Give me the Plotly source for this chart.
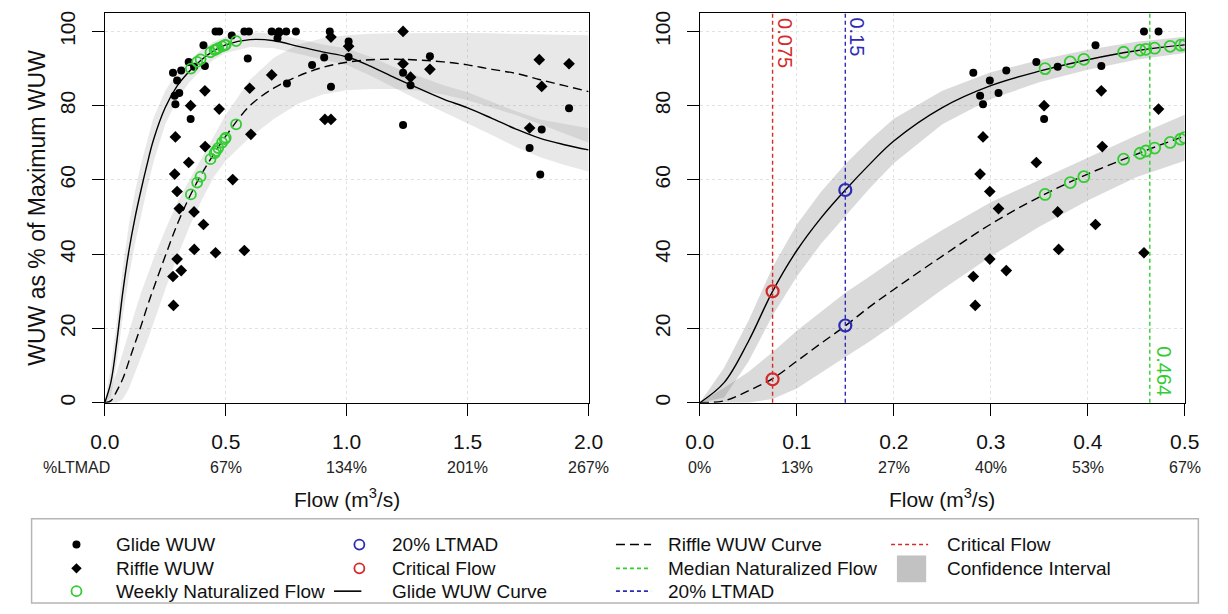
import plotly.graph_objects as go

# ---------------- data ----------------
glide_flow = [0.282, 0.289, 0.292, 0.299, 0.308, 0.316, 0.347, 0.355, 0.369, 0.408, 0.414, 0.458, 0.473,
              0.525, 0.577, 0.596, 0.591, 0.690, 0.720, 0.750, 0.790, 0.714, 0.753, 0.857, 0.907, 0.930,
              0.935, 1.008, 1.008, 1.233, 1.264, 1.233, 1.344, 1.806, 1.919, 1.756, 1.800]
glide_wuw = [88.9, 82.7, 80.4, 86.8, 83.4, 89.5, 91.8, 76.4, 90.5, 96.3, 90.7, 100.0, 100.0,
             98.9, 100.0, 100.0, 92.7, 100.0, 100.0, 100.0, 100.0, 98.2, 86.0, 91.0, 93.0, 100.0,
             85.1, 97.3, 93.1, 88.9, 85.5, 74.8, 93.3, 73.6, 79.3, 68.6, 61.5]

riffle_flow = [0.282, 0.284, 0.289, 0.292, 0.299, 0.299, 0.308, 0.316, 0.347, 0.355, 0.369, 0.370,
               0.408, 0.414, 0.415, 0.458, 0.473, 0.529, 0.577, 0.599, 0.604, 0.690, 0.718, 0.910,
               0.935, 0.935, 1.008, 1.233, 1.233, 1.264, 1.344, 1.756, 1.796, 1.806, 1.919]
riffle_wuw = [34.0, 26.2, 61.6, 71.6, 56.9, 38.7, 52.3, 35.6, 64.7, 80.0, 51.4, 41.3,
              48.0, 84.0, 69.0, 40.4, 79.1, 60.1, 41.0, 84.7, 72.3, 88.3, 99.5, 76.3,
              76.3, 98.5, 96.0, 100.0, 91.3, 87.7, 89.8, 74.0, 92.4, 85.2, 91.3]

weekly_flow = [0.356, 0.382, 0.396, 0.437, 0.454, 0.460, 0.469, 0.485, 0.496, 0.500, 0.543]
weekly_glide = [90.0, 91.8, 92.5, 94.4, 95.0, 95.2, 95.5, 96.0, 96.3, 96.4, 97.4]
weekly_riffle = [56.1, 59.3, 60.9, 65.6, 67.2, 67.8, 68.6, 70.1, 71.0, 71.4, 75.0]

curve_flow = [0, 0.025, 0.05, 0.075, 0.1, 0.125, 0.15, 0.175, 0.2, 0.25, 0.3, 0.35, 0.4, 0.45, 0.5,
              0.6, 0.7, 0.8, 0.9, 1.0, 1.1, 1.2, 1.3, 1.4, 1.5, 1.6, 1.7, 1.8, 1.9, 2.0]
glide_curve = [0, 5.4, 16.5, 30.0, 41.0, 49.8, 57.3, 64.2, 70.5, 79.5, 85.4, 89.3, 92.4, 94.8, 96.4,
               97.8, 97.5, 96.0, 94.5, 93.2, 90.6, 87.5, 84.6, 81.8, 79.4, 76.6, 73.7, 71.2, 69.5, 68.1]
glide_lo = [0, 1.4, 11.0, 23.5, 34.0, 42.8, 50.3, 57.7, 64.5, 75.0, 81.8, 86.3, 89.7, 92.4, 94.2,
            95.8, 95.5, 94.0, 92.5, 91.0, 88.1, 84.7, 81.4, 78.1, 75.2, 72.1, 68.9, 66.1, 64.0, 62.3]
glide_hi = [0, 9.4, 22.0, 36.5, 48.0, 56.8, 64.3, 70.7, 76.5, 84.0, 89.0, 92.3, 95.1, 97.2, 98.6,
            99.8, 99.5, 98.0, 96.5, 95.4, 93.1, 90.3, 87.8, 85.5, 83.6, 81.1, 78.5, 76.3, 75.0, 73.9]

riffle_curve = [0, 0.5, 3.2, 6.5, 11.2, 16.0, 20.7, 25.8, 30.5, 39.5, 48.1, 55.4, 61.6, 66.9, 71.8,
                80.0, 84.8, 88.0, 90.3, 91.7, 92.4, 92.5, 92.3, 91.8, 91.0, 89.8, 88.7, 87.0, 85.4, 83.8]
riffle_lo = [0, 0, 0, 1.0, 3.8, 8.0, 12.3, 16.5, 21.0, 30.5, 39.4, 47.4, 54.5, 60.7, 65.2,
             71.5, 76.5, 80.5, 83.0, 84.2, 84.5, 84.5, 84.0, 83.0, 81.5, 79.5, 77.5, 75.0, 72.5, 70.0]
riffle_hi = [0, 4.0, 8.3, 13.6, 19.4, 24.5, 29.6, 34.0, 38.5, 46.5, 54.0, 60.0, 66.0, 72.0, 77.6,
             87.0, 93.0, 96.5, 98.2, 99.0, 99.4, 99.5, 99.6, 99.6, 99.6, 99.5, 99.4, 99.3, 99.2, 99.0]

critical_flow = 0.075
critical_wuw = [30.0, 6.3]
ltmad20_flow = 0.15
ltmad20_wuw = [57.3, 20.8]
median_flow = 0.464

left_ticks = [0, 0.5, 1.0, 1.5, 2.0]
left_ticktext = ["0.0", "0.5", "1.0", "1.5", "2.0"]
left_pct = ["%LTMAD", "67%", "134%", "201%", "267%"]
right_ticks = [0, 0.1, 0.2, 0.3, 0.4, 0.5]
right_ticktext = ["0.0", "0.1", "0.2", "0.3", "0.4", "0.5"]
right_pct = ["0%", "13%", "27%", "40%", "53%", "67%"]
y_ticks = [0, 20, 40, 60, 80, 100]

# ---------------- styling ----------------
FW, FH = 1228, 614
FONT = "Liberation Sans, Arial, sans-serif"
GREEN = "#33CC33"
RED = "#D42A2A"
BLUE = "#2B2BB5"


def px(x):
    return x / FW


def py(y):
    return 1 - y / FH


fig = go.Figure()


def add_panel(xa, ya, band_fill, green_size):
    for lo, hi in ((glide_lo, glide_hi), (riffle_lo, riffle_hi)):
        fig.add_trace(go.Scatter(
            x=curve_flow + curve_flow[::-1], y=hi + lo[::-1], fill="toself",
            fillcolor=band_fill, line=dict(width=0), mode="lines",
            hoverinfo="skip", showlegend=False, xaxis=xa, yaxis=ya))
    fig.add_trace(go.Scatter(x=curve_flow, y=glide_curve, mode="lines",
                             line=dict(color="black", width=1.4, shape="spline"),
                             showlegend=False, xaxis=xa, yaxis=ya))
    fig.add_trace(go.Scatter(x=curve_flow, y=riffle_curve, mode="lines",
                             line=dict(color="black", width=1.4, dash="9px,5px", shape="spline"),
                             showlegend=False, xaxis=xa, yaxis=ya))
    fig.add_trace(go.Scatter(x=glide_flow, y=glide_wuw, mode="markers",
                             marker=dict(symbol="circle", size=8, color="black"),
                             showlegend=False, xaxis=xa, yaxis=ya))
    fig.add_trace(go.Scatter(x=riffle_flow, y=riffle_wuw, mode="markers",
                             marker=dict(symbol="diamond", size=9, color="black"),
                             showlegend=False, xaxis=xa, yaxis=ya))
    for wy in (weekly_glide, weekly_riffle):
        fig.add_trace(go.Scatter(x=weekly_flow, y=wy, mode="markers",
                                 marker=dict(symbol="circle-open", size=green_size, color=GREEN,
                                             line=dict(width=1.8, color=GREEN)),
                                 showlegend=False, xaxis=xa, yaxis=ya))


add_panel("x", "y", "rgba(120,120,120,0.17)", 10)
add_panel("x2", "y2", "rgba(120,120,120,0.27)", 11)

fig.add_trace(go.Scatter(x=[critical_flow] * len(critical_wuw), y=critical_wuw, mode="markers",
                         marker=dict(symbol="circle-open", size=12, color=RED, line=dict(width=2.2, color=RED)),
                         showlegend=False, xaxis="x2", yaxis="y2"))
fig.add_trace(go.Scatter(x=[ltmad20_flow] * len(ltmad20_wuw), y=ltmad20_wuw, mode="markers",
                         marker=dict(symbol="circle-open", size=12, color=BLUE, line=dict(width=2.2, color=BLUE)),
                         showlegend=False, xaxis="x2", yaxis="y2"))

shapes = []
annotations = []


def ann(text, x, y, xref="paper", yref="paper", size=20, color="#111", **kw):
    d = dict(text=text, x=x, y=y, xref=xref, yref=yref, showarrow=False,
             xanchor=kw.pop("xanchor", "center"), yanchor=kw.pop("yanchor", "middle"),
             font=dict(family=FONT, size=size, color=color))
    d.update(kw)
    annotations.append(d)


for val, col in ((critical_flow, RED), (ltmad20_flow, BLUE), (median_flow, GREEN)):
    shapes.append(dict(type="line", xref="x2", yref="y2 domain", x0=val, x1=val, y0=0, y1=1,
                       line=dict(color=col, width=1.4, dash="4px,3px"), layer="above"))

ann("0.075", critical_flow, py(41), xref="x2", size=20, color=RED, textangle=90, xshift=13)
ann("0.15", ltmad20_flow, py(35), xref="x2", size=20, color=BLUE, textangle=90, xshift=12)
ann("0.464", median_flow, py(372), xref="x2", size=20, color=GREEN, textangle=90, xshift=14)

for xv, t in zip(left_ticks, left_pct):
    ann(t, xv, py(469), xref="x", size=16, color="#222", xshift=-28 if t == "%LTMAD" else 0)
for xv, t in zip(right_ticks, right_pct):
    ann(t, xv, py(469), xref="x2", size=16, color="#222")

for cx in (340, 950):
    ann("Flow (m<sup>3</sup>/s)", px(cx), py(500), size=21)
ann("WUW as % of Maximum WUW", px(23), py(207), size=23, textangle=-90)

# ---------------- legend (drawn manually in pixel space) ----------------
shapes.append(dict(type="rect", xref="paper", yref="paper", x0=px(17), x1=px(1213), y0=py(606), y1=py(521),
                   line=dict(color="#B5B5B5", width=1.5)))
rows = [547, 571, 594]
leg_marker = [
    (63, rows[0], "circle", "black", 8, 0),
    (63, rows[1], "diamond", "black", 8, 0),
    (63, rows[2], "circle-open", GREEN, 10, 1.8),
    (353, rows[0], "circle-open", BLUE, 10, 1.8),
    (353, rows[1], "circle-open", RED, 10, 1.8),
]
for lx, ly, sym, col, sz, lw in leg_marker:
    fig.add_trace(go.Scatter(x=[lx], y=[ly], mode="markers",
                             marker=dict(symbol=sym, size=sz, color=col, line=dict(width=lw, color=col)),
                             showlegend=False, xaxis="x3", yaxis="y3", hoverinfo="skip"))
leg_lines = [
    (327, 355, rows[2], "black", "solid"),
    (616, 652, rows[0], "black", "9px,5px"),
    (616, 652, rows[1], GREEN, "4px,3px"),
    (616, 652, rows[2], BLUE, "4px,3px"),
    (898, 936, rows[0], RED, "4px,3px"),
]
for x0, x1, ly, col, dash in leg_lines:
    shapes.append(dict(type="line", xref="paper", yref="paper", x0=px(x0), x1=px(x1), y0=py(ly), y1=py(ly),
                       line=dict(color=col, width=1.6, dash=dash)))
shapes.append(dict(type="rect", xref="paper", yref="paper", x0=px(904), x1=px(934), y0=py(585), y1=py(558),
                   line=dict(width=0), fillcolor="#C2C2C2"))
leg_text = [
    (101, rows[0], "Glide WUW"), (101, rows[1], "Riffle WUW"), (101, rows[2], "Weekly Naturalized Flow"),
    (384, rows[0], "20% LTMAD"), (384, rows[1], "Critical Flow"), (384, rows[2], "Glide WUW Curve"),
    (667, rows[0], "Riffle WUW Curve"), (667, rows[1], "Median Naturalized Flow"), (667, rows[2], "20% LTMAD"),
    (953, rows[0], "Critical Flow"), (953, rows[1], "Confidence Interval"),
]
for tx, ty, t in leg_text:
    ann(t, px(tx), py(ty), size=19, xanchor="left")

axis_common = dict(showline=True, mirror=True, linecolor="black", linewidth=1.3,
                   ticks="outside", ticklen=12, tickwidth=1.3, tickcolor="black",
                   showgrid=True, gridcolor="#E2E2E2", griddash="dot", gridwidth=1,
                   zeroline=False, tickfont=dict(family=FONT, size=21, color="#111"))
ydom = [py(404), py(11)]

fig.update_layout(
    width=FW, height=FH, margin=dict(l=0, r=0, t=0, b=0),
    paper_bgcolor="white", plot_bgcolor="rgba(0,0,0,0)", showlegend=False,
    xaxis=dict(domain=[px(92), px(588)], range=[0, 2], anchor="y", tickvals=left_ticks,
               ticktext=left_ticktext, ticklabelstandoff=8, **axis_common),
    yaxis=dict(domain=ydom, range=[0, 105], anchor="x", tickvals=y_ticks, tickangle=-90,
               ticklabelstandoff=8, **axis_common),
    xaxis2=dict(domain=[px(702), px(1199)], range=[0, 0.5], anchor="y2", tickvals=right_ticks,
                ticktext=right_ticktext, ticklabelstandoff=8, **axis_common),
    yaxis2=dict(domain=ydom, range=[0, 105], anchor="x2", tickvals=y_ticks, tickangle=-90,
                ticklabelstandoff=8, **axis_common),
    xaxis3=dict(domain=[0, 1], range=[0, FW], anchor="y3", visible=False, fixedrange=True),
    yaxis3=dict(domain=[0, 1], range=[FH, 0], anchor="x3", visible=False, fixedrange=True),
    shapes=shapes, annotations=annotations,
)

# remove the default page margin so the figure fills the window exactly; hide the mode bar
fig.write_html("out.html", config={"displayModeBar": False},
               post_script="document.body.style.margin='0';document.body.style.overflow='hidden';")
